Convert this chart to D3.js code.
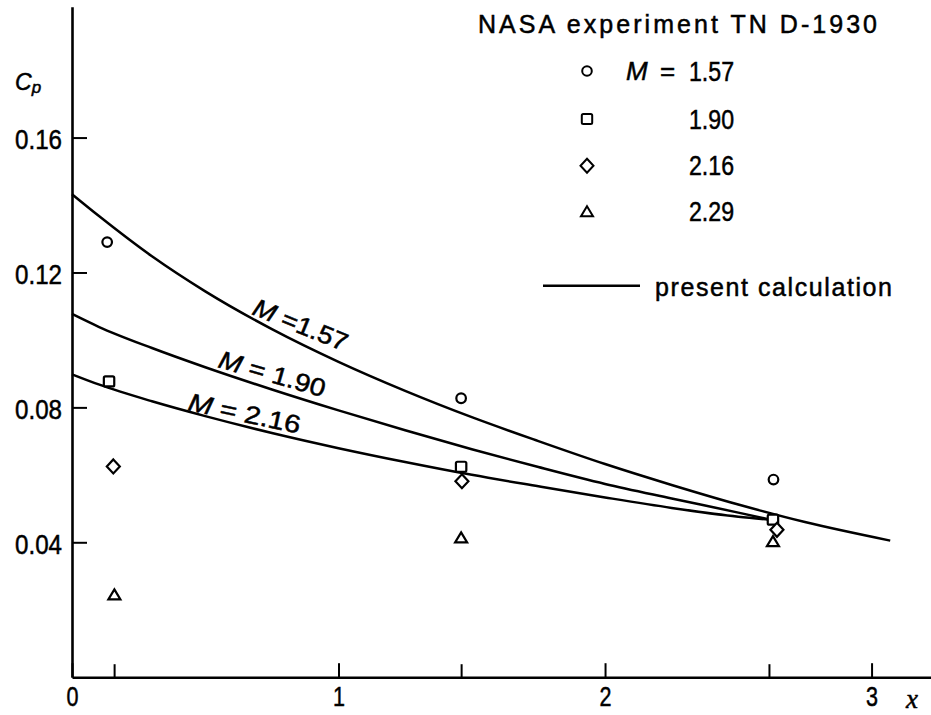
<!DOCTYPE html>
<html><head><meta charset="utf-8">
<script src="https://cdn.jsdelivr.net/npm/d3@7"></script>
<style>body{margin:0;background:#fff}svg{display:block}svg text{stroke:#000;stroke-width:0.5px}</style>
</head><body><svg id="chart" width="931" height="715"></svg>
<script>
// ---------- data ----------
const xTicks = [0, 1, 2, 3];
const xTickLabels = ["0", "1", "2", "3"];
const yTicks = [0.04, 0.08, 0.12, 0.16];
const yTickLabels = ["0.04", "0.08", "0.12", "0.16"];
const dataTicks = [0.158, 1.46, 2.615];

// present calculation curves
const calcX157 = [0, 0.1, 0.3, 0.5, 0.75, 1.0, 1.25, 1.5, 1.75, 2.0, 2.25, 2.5, 2.75, 3.07];
const calcCp157 = [0.1432, 0.1368, 0.1248, 0.1144, 0.1032, 0.0935, 0.0849, 0.0771, 0.0700, 0.0632, 0.0570, 0.0512, 0.0460, 0.0405];
const calcX190 = [0, 0.1, 0.3, 0.5, 0.75, 1.0, 1.25, 1.5, 1.75, 2.0, 2.25, 2.5, 2.62];
const calcCp190 = [0.1077, 0.1039, 0.0976, 0.0919, 0.0853, 0.0791, 0.0732, 0.0676, 0.0623, 0.0573, 0.0530, 0.0488, 0.0467];
const calcX216 = [0, 0.1, 0.3, 0.5, 0.75, 1.0, 1.25, 1.5, 1.75, 2.0, 2.25, 2.5, 2.62];
const calcCp216 = [0.0898, 0.0868, 0.0818, 0.0774, 0.0724, 0.0679, 0.0638, 0.0600, 0.0566, 0.0533, 0.0502, 0.0476, 0.0467];
const curveLabels = ["1.57", "1.90", "2.16"];

// NASA experiment TN D-1930
const expX157 = [0.132, 1.46, 2.632];
const expCp157 = [0.1290, 0.0827, 0.0586];
const expX190 = [0.139, 1.46, 2.630];
const expCp190 = [0.0877, 0.0624, 0.0467];
const expX216 = [0.155, 1.463, 2.645];
const expCp216 = [0.0625, 0.0581, 0.0437];
const expX229 = [0.159, 1.46, 2.630];
const expCp229 = [0.0244, 0.0413, 0.0402];
const machLabels = ["1.57", "1.90", "2.16", "2.29"];

// ---------- drawing ----------
const svg = d3.select("#chart");
const FONT = "'Liberation Sans', Arial, sans-serif";
const x = d3.scaleLinear().domain([0, 3.223]).range([72, 931]);
const y = d3.scaleLinear().domain([0, 0.1988]).range([677.2, 6.7]);

// axes
const gx = svg.append("g").attr("transform", `translate(0,${y(0)})`)
  .call(d3.axisBottom(x).tickValues(xTicks).tickFormat((d, i) => xTickLabels[i])
    .tickSize(-14).tickSizeOuter(0).tickPadding(9));
const gx2 = svg.append("g").attr("transform", `translate(0,${y(0)})`)
  .call(d3.axisBottom(x).tickValues(dataTicks).tickFormat("").tickSize(-13).tickSizeOuter(0));
gx2.select(".domain").remove();
const gy = svg.append("g").attr("transform", `translate(${x(0)},0)`)
  .call(d3.axisLeft(y).tickValues(yTicks).tickFormat((d, i) => yTickLabels[i])
    .tickSize(-15).tickSizeOuter(0).tickPadding(10));

[gx, gx2, gy].forEach(g => {
  g.attr("font-family", null).attr("font-size", null);
  g.select(".domain").attr("stroke", "#000").attr("stroke-width", 2.6);
  g.selectAll(".tick line").attr("stroke", "#000").attr("stroke-width", 2);
  g.selectAll(".tick text").attr("fill", "#000").style("font-family", FONT).style("font-size", "28px");
});
gy.selectAll(".tick text").attr("textLength", 47).attr("lengthAdjust", "spacingAndGlyphs").attr("dy", "0.4em");
gx.selectAll(".tick text").attr("textLength", 12).attr("lengthAdjust", "spacingAndGlyphs");

// axis titles
const cp = svg.append("text").attr("x", 15).attr("y", 90)
  .style("font-family", FONT).style("font-style", "italic").style("font-size", "23px");
cp.append("tspan").text("C");
cp.append("tspan").attr("dy", 3).style("font-size", "17px").text("p");

svg.append("text").attr("x", 912).attr("y", 708).attr("text-anchor", "middle")
  .style("font-family", "'Liberation Serif', 'DejaVu Serif', serif").style("font-style", "italic")
  .style("font-size", "27px").text("x");

// calculation curves
const line = d3.line().x(d => x(d[0])).y(d => y(d[1])).curve(d3.curveMonotoneX);
const curves = [[calcX157, calcCp157], [calcX190, calcCp190], [calcX216, calcCp216]];
curves.forEach(([xs, cs]) => {
  svg.append("path").datum(xs.map((v, i) => [v, cs[i]]))
    .attr("d", line).attr("fill", "none").attr("stroke", "#000").attr("stroke-width", 2.5);
});

// curve labels (placed along the curves)
const labelPos = [
  {x: 251, y: 314, a: 22, len: 100},
  {x: 217, y: 367, a: 16, len: 110},
  {x: 187, y: 410, a: 12, len: 114}
];
curveLabels.forEach((lab, i) => {
  const p = labelPos[i];
  const t = svg.append("text").attr("transform", `translate(${p.x},${p.y}) rotate(${p.a})`)
    .attr("textLength", p.len).attr("lengthAdjust", "spacingAndGlyphs")
    .style("font-family", FONT).style("font-size", "25px");
  t.append("tspan").style("font-style", "italic").text("M");
  t.append("tspan").text((i === 0 ? " =" : " = ") + lab);
});

// marker shapes
const sym = {
  circle: (g, cx, cy) => g.append("circle").attr("cx", cx).attr("cy", cy).attr("r", 4.8),
  square: (g, cx, cy) => g.append("rect").attr("x", cx - 5.2).attr("y", cy - 5).attr("width", 10.4).attr("height", 10).attr("rx", 1.5),
  diamond: (g, cx, cy) => g.append("path").attr("d", `M${cx},${cy - 7}L${cx + 6.5},${cy}L${cx},${cy + 7}L${cx - 6.5},${cy}Z`),
  triangle: (g, cx, cy) => g.append("path").attr("d", `M${cx},${cy - 5.5}L${cx + 6},${cy + 4.5}L${cx - 6},${cy + 4.5}Z`)
};
const series = [
  {xs: expX157, cs: expCp157, s: "circle"},
  {xs: expX190, cs: expCp190, s: "square"},
  {xs: expX216, cs: expCp216, s: "diamond"},
  {xs: expX229, cs: expCp229, s: "triangle"}
];
const mg = svg.append("g").attr("fill", "#fff").attr("stroke", "#000").attr("stroke-width", 2.2);
series.forEach(se => se.xs.forEach((v, i) => sym[se.s](mg, x(v), y(se.cs[i]))));

// legend
svg.append("text").attr("x", 478).attr("y", 33).attr("textLength", 399).attr("lengthAdjust", "spacing")
  .style("font-family", FONT).style("font-size", "25px").text("NASA  experiment  TN  D-1930");
const legY = [71, 119, 165.7, 211.7];
const lg = svg.append("g").attr("fill", "#fff").attr("stroke", "#000").attr("stroke-width", 2);
series.forEach((se, i) => sym[se.s](lg, 587, legY[i]));
svg.append("text").attr("x", 626).attr("y", 80).style("font-family", FONT).style("font-style", "italic")
  .style("font-size", "26px").text("M");
svg.append("text").attr("x", 660).attr("y", 80).style("font-family", FONT)
  .style("font-size", "26px").text("=");
machLabels.forEach((lab, i) => {
  svg.append("text").attr("x", 689).attr("y", legY[i] + 9.5).attr("textLength", 45).attr("lengthAdjust", "spacingAndGlyphs")
    .style("font-family", FONT).style("font-size", "28px").text(lab);
});
svg.append("line").attr("x1", 543).attr("x2", 640).attr("y1", 285.7).attr("y2", 285.7)
  .attr("stroke", "#000").attr("stroke-width", 2.5);
svg.append("text").attr("x", 655).attr("y", 296).attr("textLength", 237).attr("lengthAdjust", "spacing")
  .style("font-family", FONT).style("font-size", "25px").text("present calculation");
</script>
</body></html>
